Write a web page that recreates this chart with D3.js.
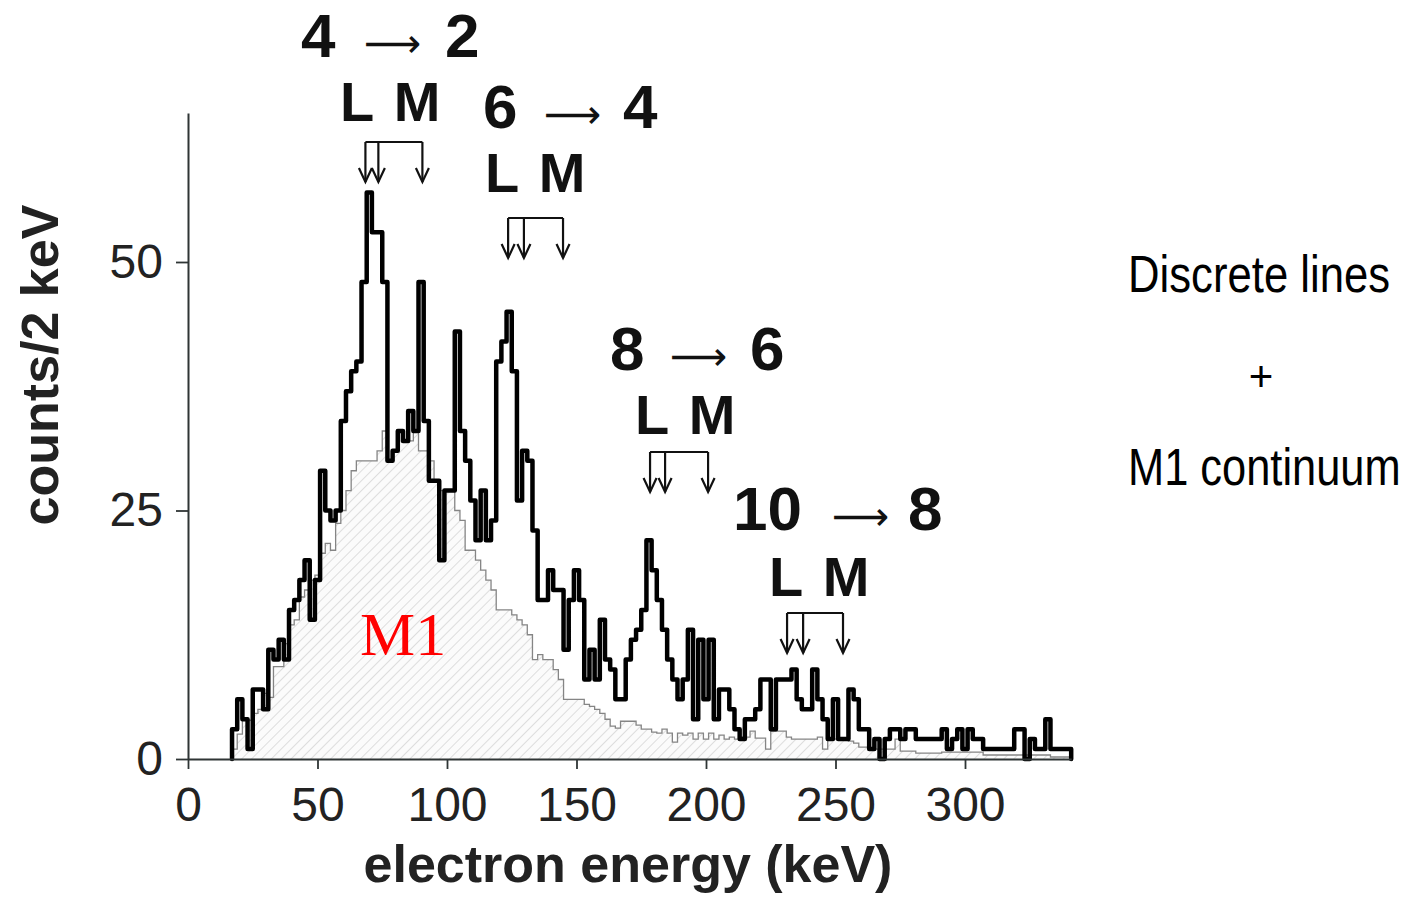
<!DOCTYPE html>
<html><head><meta charset="utf-8">
<script src="https://cdn.jsdelivr.net/npm/d3@7"></script>
<style>body{margin:0;background:#fff;} svg{display:block;}</style>
</head><body>
<svg id="chart" width="1410" height="901"></svg>
<script>
// ---------------- DATA ----------------
// 2 keV bins, lower edge of each bin (keV)
const binStartKeV = d3.range(17, 341, 2);
const binWidthKeV = 2;

// total electron spectrum (counts / 2 keV), black histogram
const totalCounts = [
  3, 6, 4, 1, 7, 7, 5, 11, 10, 12,
  10, 15, 16, 18, 20, 14, 18, 29, 25, 24,
  25, 34, 37, 39, 40, 48, 57, 53, 53, 48,
  30, 31, 33, 32, 35, 33, 48, 34, 28, 28,
  20, 27, 27, 43, 33, 30, 26, 22, 27, 22,
  24, 40, 42, 45, 39, 26, 31, 30, 23, 16,
  16, 19, 17, 17, 11, 16, 19, 16, 8, 11,
  8, 14, 10, 9, 6, 6, 10, 12, 13, 15,
  22, 19, 16, 13, 10, 8, 6, 8, 13, 4,
  12, 6, 12, 4, 7, 7, 5, 3, 2, 4,
  4, 5, 8, 8, 3, 8, 8, 8, 9, 6,
  5, 5, 9, 6, 4, 2, 6, 2, 2, 7,
  6, 3, 3, 1, 2, 0, 2, 3, 3, 2,
  3, 3, 2, 2, 2, 2, 2, 3, 1, 2,
  3, 1, 3, 2, 2, 1, 1, 1, 1, 1,
  1, 3, 3, 0, 2, 1, 1, 4, 1, 1,
  1, 1
];

// M1 continuum (counts / 2 keV), grey hatched histogram
const m1Counts = [
  1, 2.5, 3.9, 3.9, 4.6, 5, 6.6, 6.2, 9.3, 9.3,
  11.6, 13.5, 14, 16.3, 17, 18, 18.5, 20.7, 21.7, 21,
  23.7, 25, 27, 29, 30, 30, 30, 30, 31, 33,
  30, 31, 33, 32, 32, 33, 31, 31, 30, 28,
  27, 27, 27, 25, 24, 21, 21, 20, 19, 18,
  17, 15, 15, 15, 14.5, 14, 13.5, 12.5, 10, 10.5,
  10, 10, 9, 8, 6, 6, 6, 6, 5.5, 5.3,
  5, 4.6, 4, 3.3, 3.1, 3.8, 3.8, 3.8, 3.4, 3,
  3, 2.7, 2.6, 3, 2.6, 1.7, 2.6, 2.4, 2.6, 2,
  2.6, 2, 2.6, 2, 2.4, 2, 2.2, 2, 2.2, 2.2,
  2.8, 2.1, 2.1, 1, 2.8, 2.8, 2.8, 2.2, 2, 2,
  2, 2, 2, 2.2, 1, 2, 2, 2, 2, 1.8,
  1.6, 1.2, 1.2, 1, 1, 1, 1, 1, 2, 0.8,
  0.8, 0.8, 0.6, 0.6, 0.6, 0.6, 0.6, 0.7, 0.7, 0.7,
  0.7, 0.7, 0.7, 0.7, 0.7, 0.4, 0.4, 0.4, 0.4, 0.4,
  0.4, 0.4, 0.4, 0.4, 0.4, 0.4, 0.4, 0.4, 0.2, 0.2,
  0.2, 0.2
];

const xTicks = [0, 50, 100, 150, 200, 250, 300];
const yTicks = [0, 25, 50];
const xTitle = "electron energy (keV)";
const yTitle = "counts/2 keV";

// transitions: initial, final spin; L1, L2, M conversion line energies (keV)
const transFrom = ["4", "6", "8", "10"];
const transTo = ["2", "4", "6", "8"];
const arrowGlyph = "⟶";
const shellL = "L";
const shellM = "M";
const lineEnergies = [
  [68.5, 73.5, 90.5],
  [123.6, 129.7, 144.8],
  [178.4, 184.2, 200.8],
  [231.3, 237.5, 252.9]
];
const sideText = ["Discrete lines", "+", "M1 continuum"];
const m1Label = "M1";

// ---------------- LAYOUT ----------------
const svg = d3.select("#chart");
const X0 = 188, Y0 = 759;
const x = d3.scaleLinear().domain([0, 341]).range([X0, X0 + 341 * 2.59]);
const y = d3.scaleLinear().domain([0, 65]).range([Y0, Y0 - 65 * 9.94]);

// annotation layout (pixels)
const annot = [
  {ax: 301, arx: 364, bx: 445, ty: 57, lx: 340, ly: 121, bar: 142},
  {ax: 483, arx: 544, bx: 623, ty: 128, lx: 485, ly: 192, bar: 218},
  {ax: 610, arx: 670, bx: 750, ty: 370, lx: 635, ly: 434, bar: 452},
  {ax: 733, arx: 832, bx: 908, ty: 530, lx: 769, ly: 596, bar: 613}
];

// hatch pattern
const defs = svg.append("defs");
const pat = defs.append("pattern").attr("id", "hatch")
  .attr("patternUnits", "userSpaceOnUse").attr("width", 7).attr("height", 7)
  .attr("patternTransform", "rotate(45)");
pat.append("rect").attr("width", 7).attr("height", 7).attr("fill", "#fbfbfb");
pat.append("line").attr("x1", 0).attr("y1", 0).attr("x2", 0).attr("y2", 7)
  .attr("stroke", "#cdcdcd").attr("stroke-width", 1.3);

function stepPoints(vals) {
  const pts = [[binStartKeV[0], 0]];
  vals.forEach((v, i) => pts.push([binStartKeV[i], v]));
  const end = binStartKeV[binStartKeV.length - 1] + binWidthKeV;
  pts.push([end, vals[vals.length - 1]]);
  pts.push([end, 0]);
  return pts;
}

const m1Pts = stepPoints(m1Counts);
const area = d3.area().curve(d3.curveStepAfter)
  .x(d => x(d[0])).y0(y(0)).y1(d => y(d[1]));
const line = d3.line().curve(d3.curveStepAfter)
  .x(d => x(d[0])).y(d => y(d[1]));

svg.append("path").attr("d", area(m1Pts)).attr("fill", "url(#hatch)");
svg.append("path").attr("d", line(m1Pts)).attr("fill", "none")
  .attr("stroke", "#858585").attr("stroke-width", 1.3);

svg.append("path").attr("d", line(stepPoints(totalCounts))).attr("fill", "none")
  .attr("stroke", "#000").attr("stroke-width", 4.5)
  .attr("stroke-linejoin", "round").attr("stroke-linecap", "round");

// axes
const axisColor = "#2f3535";
const fam = "Liberation Sans, Arial, sans-serif";
const gx = svg.append("g").attr("transform", `translate(0,${Y0})`)
  .call(d3.axisBottom(x).tickValues(xTicks).tickSize(10).tickSizeOuter(0).tickPadding(18));
const gy = svg.append("g").attr("transform", `translate(${X0},0)`)
  .call(d3.axisLeft(y).tickValues(yTicks).tickSize(12).tickSizeOuter(0).tickPadding(13));
[gx, gy].forEach(g => {
  g.select(".domain").attr("stroke", axisColor).attr("stroke-width", 2);
  g.selectAll(".tick line").attr("stroke", axisColor).attr("stroke-width", 1.8);
  g.selectAll(".tick text").attr("font-family", fam)
    .attr("font-size", 48).attr("fill", "#222");
});

// axis titles
svg.append("text").attr("x", 628).attr("y", 882).attr("text-anchor", "middle")
  .attr("font-family", fam).attr("font-weight", "bold")
  .attr("font-size", 52).attr("fill", "#222").text(xTitle);
svg.append("text").attr("transform", "translate(58,365) rotate(-90)").attr("text-anchor", "middle")
  .attr("font-family", fam).attr("font-weight", "bold")
  .attr("font-size", 52).attr("fill", "#222").text(yTitle);

// transition annotations
annot.forEach((a, i) => {
  const t = svg.append("text")
    .attr("font-family", fam).attr("font-weight", "bold").attr("font-size", 62).attr("fill", "#111");
  t.append("tspan").attr("x", a.ax).attr("y", a.ty).text(transFrom[i] + " ");
  t.append("tspan").attr("x", a.arx).attr("y", a.ty)
    .attr("font-family", "DejaVu Sans, sans-serif").attr("font-weight", "normal")
    .attr("font-size", 40).text(arrowGlyph + " ");
  t.append("tspan").attr("x", a.bx).attr("y", a.ty).text(transTo[i]);
  const lm = svg.append("text").attr("x", a.lx).attr("y", a.ly)
    .attr("font-family", fam).attr("font-weight", "bold").attr("font-size", 56).attr("fill", "#111");
  lm.append("tspan").text(shellL);
  lm.append("tspan").attr("dx", 5).text(" " + shellM);
  const e = lineEnergies[i];
  const g = svg.append("g").attr("stroke", "#111").attr("stroke-width", 2.2).attr("fill", "none");
  g.append("line").attr("x1", x(e[0])).attr("x2", x(e[2])).attr("y1", a.bar).attr("y2", a.bar);
  e.forEach(v => {
    const xv = x(v), tip = a.bar + 40;
    g.append("line").attr("x1", xv).attr("x2", xv).attr("y1", a.bar).attr("y2", tip);
    g.append("path").attr("d", `M${xv - 6.5},${tip - 14} L${xv},${tip} L${xv + 6.5},${tip - 14}`);
  });
});

// M1 label
svg.append("text").attr("x", 360).attr("y", 655)
  .attr("font-family", "Liberation Serif, Times New Roman, serif")
  .attr("font-size", 62).attr("fill", "#ff0000").text(m1Label);

// side text (condensed)
svg.append("text").attr("transform", "translate(1128,292) scale(0.84,1)").attr("font-family", fam)
  .attr("font-size", 52).attr("fill", "#000").text(sideText[0]);
svg.append("text").attr("x", 1261).attr("y", 391).attr("text-anchor", "middle").attr("font-family", fam)
  .attr("font-size", 42).attr("fill", "#000").text(sideText[1]);
svg.append("text").attr("transform", "translate(1128,485) scale(0.835,1)").attr("font-family", fam)
  .attr("font-size", 52).attr("fill", "#000").text(sideText[2]);
</script>
</body></html>
